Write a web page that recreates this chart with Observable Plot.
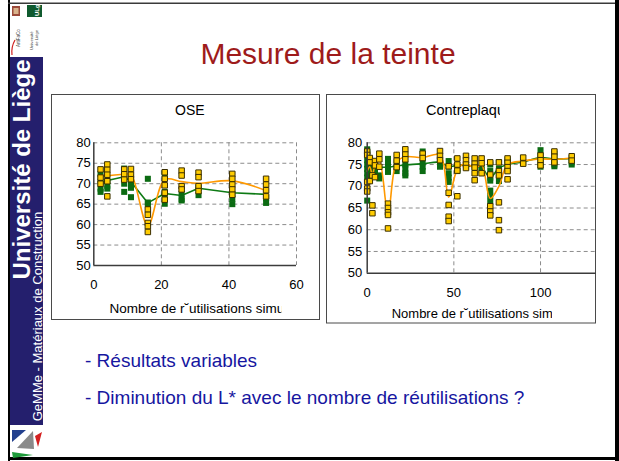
<!DOCTYPE html>
<html><head><meta charset="utf-8">
<script src="https://cdn.jsdelivr.net/npm/d3@7"></script>
<script src="https://cdn.jsdelivr.net/npm/@observablehq/plot@0.6"></script>
<style>
body{margin:0;width:619px;height:461px;position:relative;overflow:hidden;background:#fff;font-family:"Liberation Sans",Arial,sans-serif}
</style></head><body>
<svg id="deco" width="619" height="461" style="position:absolute;left:0;top:0" font-family="Liberation Sans, Arial, sans-serif">
 <defs>
  <clipPath id="c2t"><rect x="400" y="95" width="100" height="30"/></clipPath>
  <clipPath id="c1l"><rect x="100" y="295" width="181.5" height="24"/></clipPath>
  <clipPath id="c2l"><rect x="380" y="298" width="172" height="24"/></clipPath>
 </defs>
 <rect x="0" y="0" width="619" height="461" fill="#fff"/>
 <!-- slide frame -->
 <rect x="8" y="0" width="2" height="461" fill="#000"/>
 <rect x="8" y="2.5" width="609" height="1.5" fill="#3a3a3a"/>
 <rect x="615" y="0" width="4" height="461" fill="#000"/>
 <rect x="8" y="457" width="611" height="3" fill="#000"/>
 <!-- top logo -->
 <rect x="12" y="6" width="8" height="10" fill="#9b4a3a"/>
 <rect x="13.5" y="8" width="5" height="6" fill="#d9b38c"/>
 <rect x="27" y="5" width="15" height="12" fill="#0f5a2e"/>
 <text transform="translate(39,16) rotate(-90)" font-size="6" font-weight="bold" fill="#fff">ULg</text>
 <text transform="translate(20,47) rotate(-90)" font-size="4.5" fill="#444">ArtiFaCo</text>
 <text transform="translate(33,50) rotate(-90)" font-size="4.2" fill="#444">Université</text>
 <text transform="translate(38,46) rotate(-90)" font-size="4.2" fill="#444">de Liège</text>
 <path d="M15,40 Q11,47 12,55" stroke="#d02020" stroke-width="1.2" fill="none"/>
 <!-- sidebar -->
 <rect x="10" y="57" width="33" height="368" fill="#241f6d"/>
 <text transform="translate(30,169.5) rotate(-90)" text-anchor="middle" font-size="24" font-weight="bold" fill="#fff">Université de Liège</text>
 <text transform="translate(41.5,316.5) rotate(-90)" text-anchor="middle" font-size="13" fill="#fff">GeMMe - Matériaux de Construction</text>
 <!-- bottom logo -->
 <polygon points="12,430 26,430 12,442" fill="#23408e"/>
 <polygon points="17,448 33,431 34,449" fill="#8a8a8a"/>
 <polygon points="35,436 42,432 38,447" fill="#d42020"/>
 <polygon points="12,452 33,455 13,458" fill="#1e9a3a"/>
 <!-- slide title -->
 <text x="328" y="63.5" text-anchor="middle" font-size="30" fill="#9e1b1b">Mesure de la teinte</text>
 <!-- chart frames -->
 <rect x="51.5" y="94.5" width="268" height="225" fill="#fff" stroke="#4a4a4a" stroke-width="1"/>
 <rect x="326.5" y="94.5" width="269" height="228.5" fill="#fff" stroke="#4a4a4a" stroke-width="1"/>
 <!-- chart titles and axis titles -->
 <text x="175" y="115" font-size="14" fill="#000">OSE</text>
 <text x="426" y="115" font-size="14.5" fill="#000" clip-path="url(#c2t)">Contreplaqu</text>
 <text x="109.5" y="312.7" font-size="13.5" fill="#000" clip-path="url(#c1l)">Nombre de r˘utilisations simu</text>
 <text x="391.7" y="318" font-size="13" fill="#000" clip-path="url(#c2l)">Nombre de r˘utilisations simu</text>
 <!-- bullets -->
 <text x="85" y="367.3" font-size="19" fill="#1616a0">- Résultats variables</text>
 <text x="85" y="404" font-size="19" fill="#1616a0">- Diminution du L* avec le nombre de réutilisations ?</text>
</svg>
<script>
// ---- shared ----
const yTicks = [50, 55, 60, 65, 70, 75, 80];

// ---- OSB chart ----
const oseX = [2, 4, 9, 11, 16, 21, 26, 31, 41, 51];
const oseXTicks = [0, 20, 40, 60];
const oseYellow = [
  [73.5, 71.5, 70], [74.7, 73.4, 72.2, 70.6, 66.9], [73.5, 72.3, 71], [73.6, 72.2, 71.1],
  [63.7, 62.4, 60.4, 59.6, 58.2], [72.8, 71.2, 69.6, 67.8, 66.1], [73.2, 72.0, 69.4, 68.6],
  [72.7, 71.6, 69.4, 68.2], [72.4, 71.2, 69.8, 68.6, 67.3], [71.2, 69.8, 68.4, 66.9]
];
const oseGreen = [
  [72.3, 70.5, 68.8, 68], [70.8, 69.5, 68.8], [73.7, 72, 70, 68], [71.5, 70, 69, 66.7],
  [71.2, 65.4, 65], [72.5, 68, 67, 65.1], [67.5, 66.2, 65.9], [69, 67.2],
  [67.5, 66.3, 65], [66.5, 65.3]
];
const oseYellowMean = [72, 72, 72.3, 72.2, 59.8, 71, 70.5, 70.1, 70.7, 68.3];
const oseGreenMean = [70.3, 70.8, 71.7, 70.5, 65.3, 67.6, 67.1, 68.9, 67.8, 67.4];

// ---- Contreplaqué chart ----
const cpX = [0, 1.5, 3, 4.5, 7, 12, 17, 22, 32, 42, 47, 52, 57, 62, 66, 71, 76, 81, 90, 100, 108, 118];
const cpXTicks = [0, 50, 100];
const cpYellow = [
  [78, 77.2, 71, 69.5, 68.8], [76.5, 75.5, 71.2], [72.5, 65.6, 63.8], [75.8, 74.8, 72.1],
  [77.5, 76.2, 74.5], [66, 65, 64, 63.4, 60.3], [77.2, 75.9, 74.4], [78.5, 77.3, 76.2],
  [77.5, 76.5], [78.1, 77, 76], [74.6, 68.5, 65.7, 63, 62], [76.4, 75, 73.6, 67.7],
  [77, 76, 75, 74.2], [76.4, 75.2, 74.3, 73, 71.4], [76.4, 75.3, 73], [75.5, 72.7, 65.4, 64.2, 63.3],
  [75.5, 73.5, 72.5, 66.3, 62.2, 59.9], [76.4, 75.4, 74.4, 73.5, 71.6], [76.6, 75.2],
  [77.1, 76, 74.8], [78, 76.8, 75.5], [76.9, 75.9]
];
const cpGreen = [
  [78.5, 77.5, 76, 75, 74, 73, 72, 66.7], [75, 74, 73, 72], [], [74.5, 73.5],
  [72.5, 71.8], [76.3, 75.3, 74.3, 73.3], [75.5, 74.5, 73.5], [75, 74, 73, 72.5],
  [78, 75.5, 74.5, 73.5], [75.6, 74.5], [75.8, 74.5, 73, 72, 71], [74, 73.5],
  [75, 74.5], [74.5], [74.3, 73.8], [75, 73.5, 72, 71.3, 69, 67.8, 66.5],
  [75.5, 74, 72.5, 71.2], [76, 75.5], [75.5], [78.3, 77, 75.5, 74.5],
  [77.5, 76, 75, 74.6], [76.5, 75.5, 75]
];
const cpYellowMean = [73.5, 74.5, 72.5, 74.8, 75.8, 63.8, 75.6, 76.8, 76.6, 77.2, 67.5, 73.8, 75.3, 74.1, 74.9, 67.2, 70, 75, 75.8, 76.3, 76.2, 76.5];
const cpGreenMean = [74.6, 74.5, 74.4, 74.4, 74.4, 74.4, 74.7, 74.9, 75.2, 75.5, 74.5, 74.8, 74.8, 74.4, 74.3, 72, 74.2, 75, 75.6, 76.6, 76.3, 76.4];

function points(xs, groups) {
  const out = [];
  xs.forEach((x, i) => groups[i].forEach(v => out.push({x, v})));
  return out;
}
function meanLine(xs, means) { return xs.map((x, i) => ({x, v: means[i]})); }

function drawChart(o) {
  const grid = {stroke: "#8c8c8c", strokeOpacity: 1, strokeDasharray: "4,3", strokeWidth: 1};
  const svg = Plot.plot({
    width: o.w, height: o.h,
    marginLeft: o.ml, marginRight: o.mr, marginTop: o.mt, marginBottom: o.mb,
    style: {background: "transparent", fontFamily: "'Liberation Sans', Arial, sans-serif", fontSize: "13px", color: "#000", overflow: "visible"},
    x: {domain: o.xDomain},
    y: {domain: [50, 80]},
    marks: [
      Plot.gridY(yTicks.filter(d => d > 50), grid),
      Plot.gridX(o.xTicks.filter(d => d > 0), grid),
      Plot.line(meanLine(o.xs, o.gMean), {x: "x", y: "v", stroke: "#0d7a14", strokeWidth: 1.6, curve: o.gCurve}),
      Plot.dot(points(o.xs, o.green), {x: "x", y: "v", symbol: "square", fill: "#0b6b12", r: 3.4}),
      Plot.line(meanLine(o.xs, o.yMean), {x: "x", y: "v", stroke: "#ff9900", strokeWidth: 1.6, curve: "catmull-rom"}),
      Plot.dot(points(o.xs, o.yellow), {x: "x", y: "v", symbol: "square", fill: "#ffcc00", stroke: "#3a2e00", strokeWidth: 1, r: 3.1}),
      Plot.ruleX([0], {stroke: "#3c3c3c", strokeWidth: 1.5}),
      Plot.ruleY([50], {stroke: "#3c3c3c", strokeWidth: 1.5}),
      Plot.axisX({ticks: o.xTicks, tickSize: 0, tickPadding: o.xPad, label: null, tickFormat: d => String(d)}),
      Plot.axisY({ticks: yTicks, tickSize: 0, tickPadding: o.yPad, label: null})
    ]
  });
  svg.style.position = "absolute";
  svg.style.left = o.left + "px";
  svg.style.top = o.top + "px";
  document.body.appendChild(svg);
}

drawChart({
  left: 51, top: 94, w: 269, h: 226, ml: 42.3, mr: 24, mt: 48.3, mb: 55,
  xDomain: [0, 60], xTicks: oseXTicks, xs: oseX, yellow: oseYellow, green: oseGreen,
  yMean: oseYellowMean, gMean: oseGreenMean, xPad: 14.4, yPad: 3, gCurve: "linear"
});
drawChart({
  left: 326, top: 94, w: 270, h: 229, ml: 40.7, mr: 0, mt: 48.3, mb: 50.3,
  xDomain: [0, 132.3], xTicks: cpXTicks, xs: cpX, yellow: cpYellow, green: cpGreen,
  yMean: cpYellowMean, gMean: cpGreenMean, xPad: 15, yPad: 5, gCurve: "catmull-rom"
});
</script>
</body></html>
